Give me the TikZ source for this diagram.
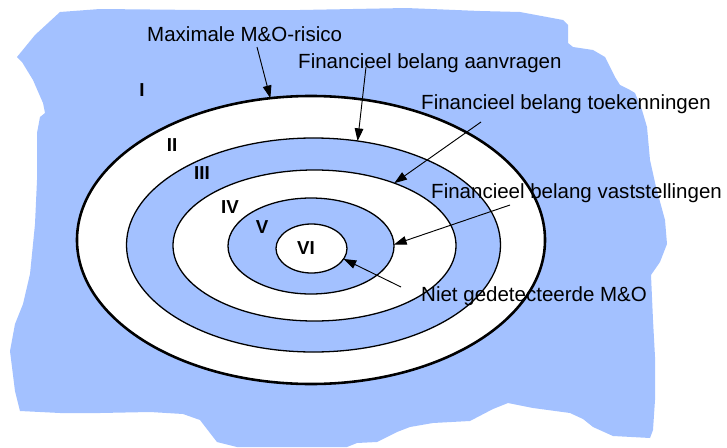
\documentclass[tikz,border=0pt]{standalone}
\usepackage{fontspec}
\setmainfont{Liberation Sans}
\usepackage{xcolor}
\usepackage{tikz}
\usetikzlibrary{arrows.meta,shapes.geometric}
\definecolor{Sea}{HTML}{A3C1FF}
\definecolor{Ink}{HTML}{000000}

\tikzset{
  ring/.style={ellipse,draw=Ink,inner sep=0pt,outer sep=0pt,line width=1.1pt},
  lab/.style={font=\fontsize{17.5}{20}\selectfont,anchor=base west,inner sep=0pt},
  zone/.style={font=\fontsize{16}{18}\selectfont\bfseries,inner sep=0pt},
  ptr/.style={Ink,line width=0.8pt,-{Triangle[length=0.38cm,width=0.26cm]}}
}

\begin{document}
\begin{tikzpicture}[x=0.03cm,y=-0.03cm]
  \useasboundingbox (0,0) rectangle (727,448);
  % blue background blob
  \fill[Sea] (60,12) -- (100,9) -- (200,10) -- (300,10) -- (406,8) -- (480,11)
    -- (520,12) -- (563,20) -- (568,25) -- (568,43) -- (573,47) -- (593,50)
    -- (605,57) -- (615,77) -- (620,85) -- (630,90) -- (635,93) -- (642,110)
    -- (647,127) -- (650,160) -- (656,187) -- (665,220) -- (667,244) -- (660,262)
    -- (651,275) -- (653,320) -- (655,357) -- (655,400) -- (653,430) -- (650,438)
    -- (613,436) -- (593,427) -- (583,419) -- (570,413) -- (533,408) -- (508,403)
    -- (493,409) -- (470,421) -- (433,423) -- (410,427) -- (397,432) -- (377,442)
    -- (357,443) -- (347,447) -- (237,447) -- (217,442) -- (210,433) -- (200,420)
    -- (183,414) -- (150,412) -- (100,413) -- (60,413) -- (20,411) -- (15,391)
    -- (12,367) -- (10,351) -- (15,324) -- (23,304) -- (30,274) -- (35,224)
    -- (37,180) -- (37,133) -- (40,117) -- (45,113) -- (43,103) -- (33,80)
    -- (22,62) -- (17,57) -- (35,35) -- cycle;

  % rings, outer to inner
  \node[ring,fill=white,line width=2.2pt,minimum width=14.04cm,minimum height=8.64cm] (r1) at (311,240) {};
  \node[ring,fill=Sea,minimum width=11.22cm,minimum height=6.42cm] (r2) at (313.5,245) {};
  \node[ring,fill=white,minimum width=8.49cm,minimum height=4.53cm] (r3) at (314.5,245.5) {};
  \node[ring,fill=Sea,minimum width=4.98cm,minimum height=2.88cm] (r4) at (311,246) {};
  \node[ring,fill=white,minimum width=2.13cm,minimum height=1.47cm] (r5) at (311.5,248.5) {};

  \foreach \x/\y/\lab in {142/90/I,172/145/II,202/173/III,230/207/IV,262/227/V,306/248/VI}
    \node[zone] (z\lab) at (\x,\y) {\lab};

  \node[lab] (risk) at (147,41) {Maximale M\&O-risico};
  \node[lab] (aanv) at (298,68) {Financieel belang aanvragen};
  \node[lab] (toek) at (421,109) {Financieel belang toekenningen};
  \node[lab] (vast) at (431,198) {Financieel belang vaststellingen};
  \node[lab] (niet) at (421,301) {Niet gedetecteerde M\&O};

  \coordinate (s1) at (257,47);
  \coordinate (s2) at (366,67);
  \coordinate (s3) at (481,122);
  \coordinate (s4) at (510,205);
  \coordinate (s5) at (401,287);
  \draw[ptr] (s1) -- (r1.106);
  \draw[ptr] (s2) -- (r2.67);
  \draw[ptr] (s3) -- (r3.38);
  \draw[ptr] (s4) -- (r4.1);
  \draw[ptr] (s5) -- (r5.-18);
\end{tikzpicture}
\end{document}
